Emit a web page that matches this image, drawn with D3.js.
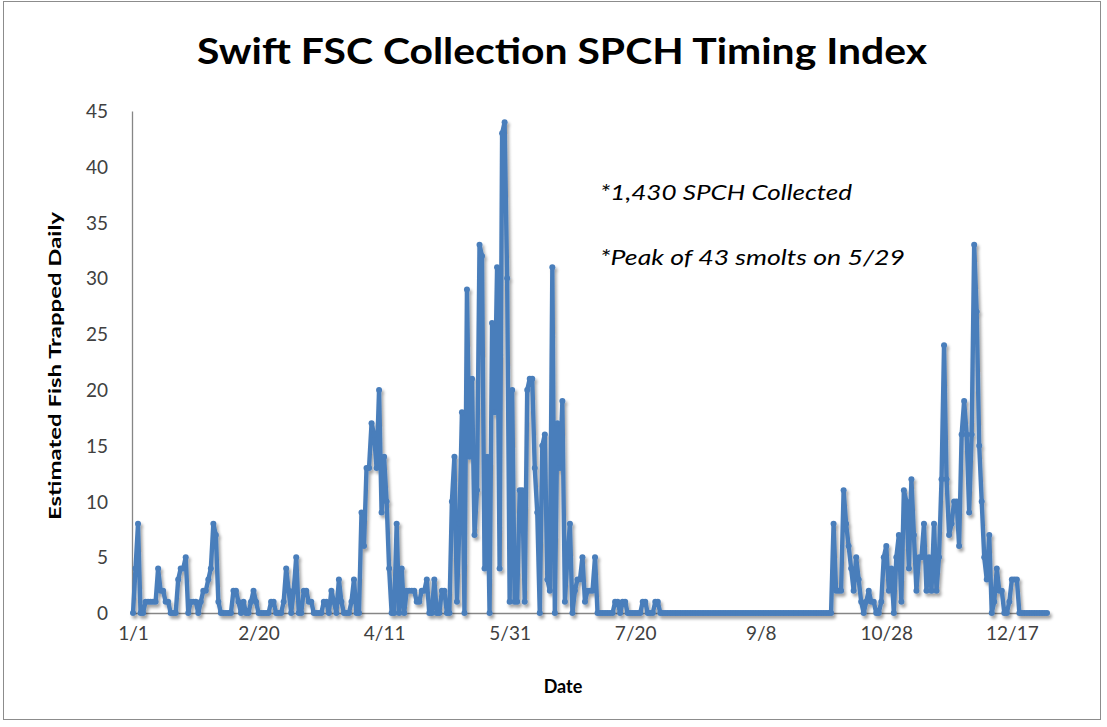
<!DOCTYPE html>
<html>
<head>
<meta charset="utf-8">
<script src="https://cdn.jsdelivr.net/npm/d3@7"></script>
<style>
  body { margin: 0; background: #fff; }
  svg { display: block; font-family: Lato, "Open Sans", sans-serif; }
</style>
</head>
<body>
<div class="chart"></div>
<script>

////////// DATA //////////

// daily estimated counts, one array per month (365 day year)
var jan = [0,4,8,0,0,1,1,1,1,1, 4,2,2,1,1,0,0,0,3,4, 4,5,0,1,1,1,0,1,2,2, 3];
var feb = [4,8,7,1,0,0,0,0,0,2, 2,1,0,1,0,0,1,2,1,0, 0,0,0,0,1,1,0,0];
var mar = [0,1,4,2,0,2,5,0,0,2, 2,1,1,0,0,0,0,1,1,0, 2,1,0,3,1,0,0,0,1,3, 0];
var apr = [0,9,6,13,13,17,16,13,20,9, 14,10,4,0,0,8,0,4,0,2, 2,2,2,1,1,2,2,3,0,0];
var may = [3,0,0,2,2,0,0,10,14,1, 8,18,0,29,14,21,7,11,33,32, 4,14,0,26,18,31,4,43,44,30, 1];
var jun = [20,1,1,11,11,1,20,21,21,13, 9,0,15,16,3,2,31,0,17,13, 19,1,5,8,0,2,3,3,5,1];
var jul = [2,2,2,5,0,0,0,0,0,0, 0,1,1,0,1,1,0,0,0,0, 0,0,1,1,0,0,0,1,1,0, 0];
var aug = [0,0,0,0,0,0,0,0,0,0, 0,0,0,0,0,0,0,0,0,0, 0,0,0,0,0,0,0,0,0,0, 0];
var sep = [0,0,0,0,0,0,0,0,0,0, 0,0,0,0,0,0,0,0,0,0, 0,0,0,0,0,0,0,0,0,0];
var oct = [0,0,0,0,0,0,8,2,2,2, 11,8,6,4,2,5,3,1,0,1, 2,1,1,0,0,1,5,6,2,4, 0];
var nov = [5,7,1,11,10,4,12,7,2,5, 5,8,2,5,2,8,2,5,12,24, 12,7,8,10,10,6,16,19,16,9];
var dec = [16,33,27,15,10,5,3,7,0,1, 4,2,2,0,0,1,3,3,3,0, 0,0,0,0,0,0,0,0,0,0, 0];

var xTickDays = [0, 50, 100, 150, 200, 250, 300, 350];
var xTickLabels = ["1/1", "2/20", "4/11", "5/31", "7/20", "9/8", "10/28", "12/17"];
var yTicks = [0, 5, 10, 15, 20, 25, 30, 35, 40, 45];

var notes = ["*1,430 SPCH Collected", "*Peak of 43 smolts on 5/29"];

var counts = [].concat(jan, feb, mar, apr, may, jun, jul, aug, sep, oct, nov, dec);
var data = counts.map(function(v, i) { return { day: i, value: v }; });


////////// SETUP //////////

var width = 1107, height = 727;
var lineColour = "#4a7ebb";

var svg = d3.select(".chart")
  .append("svg")
    .attr("width", width)
    .attr("height", height);

var defs = svg.append("defs");

var shadow = defs.append("filter")
    .attr("id", "shadow")
    .attr("x", "-5%").attr("y", "-5%")
    .attr("width", "110%").attr("height", "120%");
shadow.append("feDropShadow")
    .attr("dx", 2).attr("dy", 3)
    .attr("stdDeviation", 1.8)
    .attr("flood-color", "#000")
    .attr("flood-opacity", 0.35);

// outer chart border
svg.append("rect")
    .attr("x", 3.5).attr("y", 1.5)
    .attr("width", 1097).attr("height", 718)
    .attr("fill", "#fff")
    .attr("stroke", "#8c8c8c")
    .attr("stroke-width", 1);

var x = d3.scaleLinear()
    .domain([0, 364])
    .range([133, 1047]);

var y = d3.scaleLinear()
    .domain([0, 45])
    .range([613, 111]);


////////// AXES //////////

var yAxis = svg.append("g")
    .attr("transform", "translate(132,0)")
    .call(d3.axisLeft(y).tickValues(yTicks).tickSize(0).tickPadding(24));

yAxis.attr("font-family", null);
yAxis.select(".domain").attr("stroke", "#868686").attr("stroke-width", 1.3);
yAxis.selectAll("text")
    .attr("font-size", 19)
    .attr("fill", "#404040")
    .attr("dy", "0.35em");

var xAxis = svg.append("g")
    .attr("transform", "translate(0,613)")
    .call(d3.axisBottom(x)
      .tickValues(xTickDays)
      .tickFormat(function(d, i) { return xTickLabels[i]; })
      .tickSize(0)
      .tickPadding(14));

xAxis.attr("font-family", null);
xAxis.select(".domain").attr("stroke", "#868686").attr("stroke-width", 1.3);
xAxis.selectAll("text")
    .attr("font-size", 19)
    .attr("fill", "#404040");


////////// LINE //////////

var line = d3.line()
    .x(function(d) { return x(d.day); })
    .y(function(d) { return y(d.value); });

var series = svg.append("g")
    .attr("filter", "url(#shadow)");

series.append("path")
    .datum(data)
    .attr("d", line)
    .attr("fill", "none")
    .attr("stroke", lineColour)
    .attr("stroke-width", 4.4)
    .attr("stroke-linejoin", "round");

series.selectAll("circle")
    .data(data)
    .enter()
    .append("circle")
    .attr("cx", function(d) { return x(d.day); })
    .attr("cy", function(d) { return y(d.value); })
    .attr("r", 3)
    .attr("fill", lineColour);


////////// TEXT //////////

svg.append("text")
    .attr("x", 562).attr("y", 64)
    .attr("text-anchor", "middle")
    .attr("font-size", 36)
    .attr("font-weight", "bold")
    .attr("fill", "#000")
    .attr("textLength", 730)
    .attr("lengthAdjust", "spacingAndGlyphs")
    .text("Swift FSC Collection SPCH Timing Index");

svg.append("text")
    .attr("x", 563).attr("y", 693)
    .attr("text-anchor", "middle")
    .attr("font-size", 18)
    .attr("font-weight", "bold")
    .attr("fill", "#000")
    .text("Date");

svg.append("text")
    .attr("transform", "translate(61,366) rotate(-90)")
    .attr("text-anchor", "middle")
    .attr("font-size", 17)
    .attr("font-weight", "bold")
    .attr("fill", "#000")
    .attr("textLength", 308)
    .attr("lengthAdjust", "spacingAndGlyphs")
    .text("Estimated Fish Trapped Daily");

svg.selectAll(".note")
    .data(notes)
    .enter()
    .append("text")
    .attr("class", "note")
    .attr("x", 600)
    .attr("y", function(d, i) { return 200 + i * 65; })
    .attr("font-size", 22)
    .attr("font-style", "italic")
    .attr("fill", "#000")
    .attr("textLength", function(d, i) { return i === 0 ? 252 : 305; })
    .attr("lengthAdjust", "spacingAndGlyphs")
    .text(function(d) { return d; });

</script>
</body>
</html>
